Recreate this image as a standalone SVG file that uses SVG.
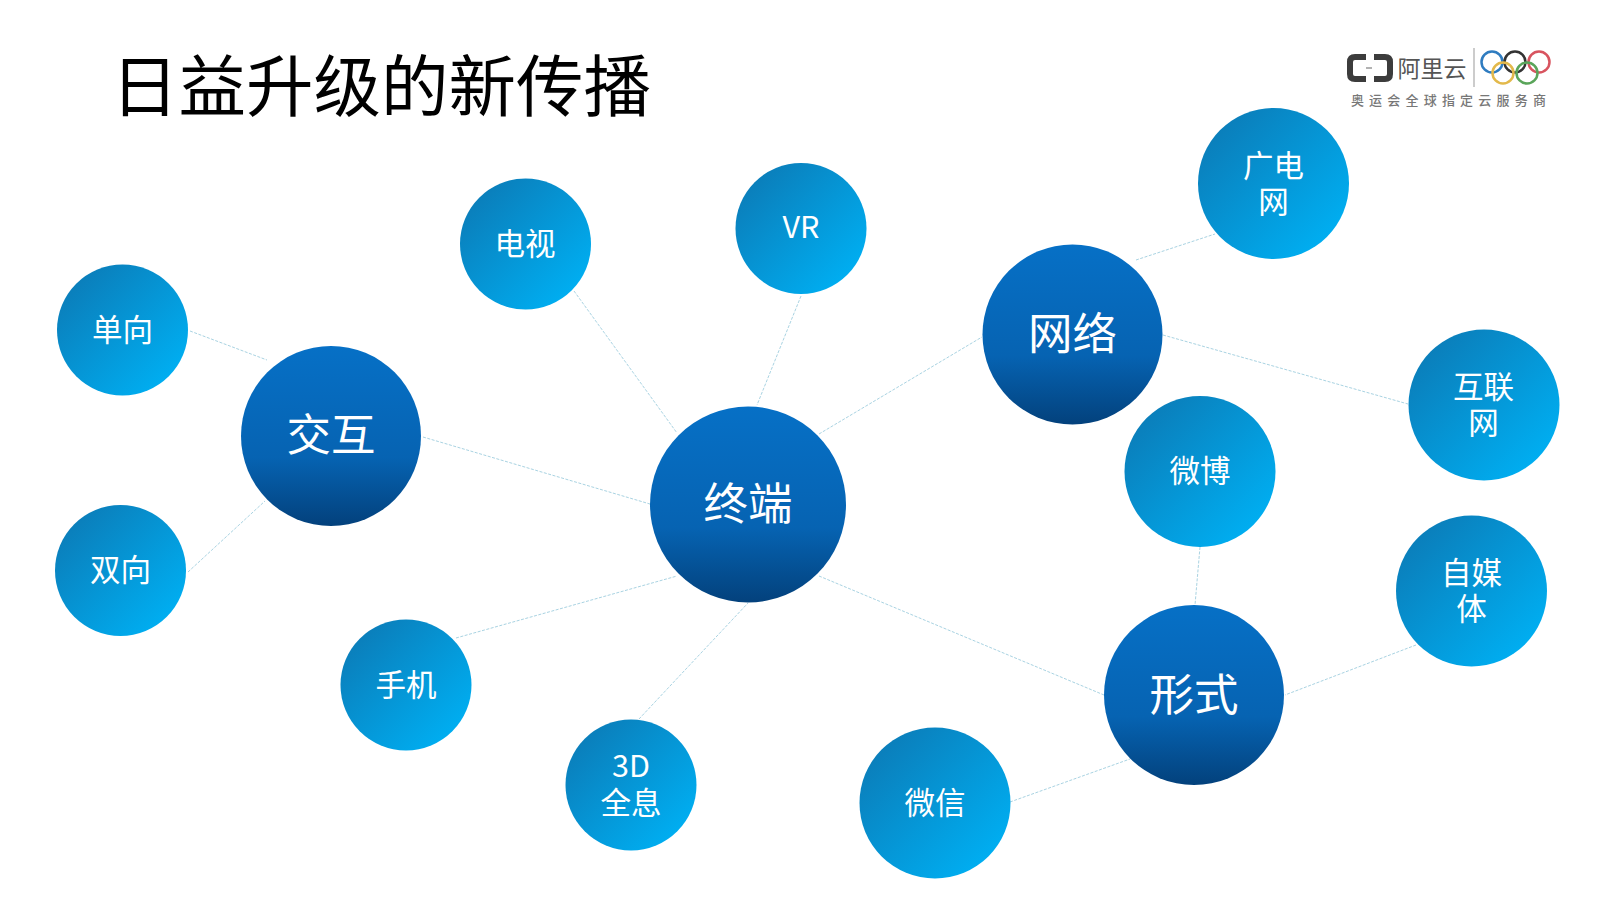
<svg xmlns="http://www.w3.org/2000/svg" width="1600" height="900" viewBox="0 0 1600 900">
<style>
text{font-family:"Noto Sans CJK SC","Microsoft YaHei",sans-serif;text-anchor:middle;fill:#fff}
.big{font-size:44.5px;font-weight:400}
.small{font-size:30.5px;font-weight:400}
#connectors line{stroke:#a9d3e2;stroke-width:1;stroke-dasharray:3 1.5}
.ring{fill:none;stroke-width:2.5}
</style>
<defs>
<linearGradient id="hub" x1="0" y1="0" x2="0" y2="1"><stop offset="0" stop-color="#0670c6"/><stop offset="0.62" stop-color="#0663b2"/><stop offset="1" stop-color="#03417c"/></linearGradient>
<linearGradient id="leaf" x1="0.1" y1="0.1" x2="0.85" y2="0.85"><stop offset="0" stop-color="#0b7cb8"/><stop offset="1" stop-color="#00adf0"/></linearGradient>
</defs>
<rect width="1600" height="900" fill="#fff"/>
<g id="connectors">
<line x1="190" y1="331" x2="267" y2="360"/>
<line x1="188" y1="572" x2="265" y2="501"/>
<line x1="423" y1="437" x2="650" y2="504"/>
<line x1="574" y1="291" x2="677" y2="433"/>
<line x1="801" y1="296" x2="757" y2="405"/>
<line x1="456" y1="638" x2="677" y2="576"/>
<line x1="639" y1="719" x2="748" y2="603"/>
<line x1="819" y1="434" x2="982" y2="337"/>
<line x1="1136" y1="260" x2="1215" y2="234"/>
<line x1="1163" y1="335" x2="1408" y2="404"/>
<line x1="819" y1="576" x2="1104" y2="695"/>
<line x1="1200" y1="547" x2="1195" y2="605"/>
<line x1="1416" y1="645" x2="1285" y2="695"/>
<line x1="1010" y1="802" x2="1130" y2="759"/>
</g>
<text id="title" x="381" y="111" style="font-size:67.5px;font-weight:400;fill:#000">日益升级的新传播</text>
<g id="logo">
<path d="M1366 57H1355Q1350 57 1350 62V74Q1350 79 1355 79H1366M1374 57H1385Q1390 57 1390 62V74Q1390 79 1385 79H1374" fill="none" stroke="#3c3c3c" stroke-width="6"/>
<path d="M1366 68h6" stroke="#999" stroke-width="1.5"/>
<text x="1432" y="77" style="font-size:23px;font-weight:400;fill:#555">阿里云</text>
<path d="M1474 48V87" stroke="#aaa" stroke-width="1.2"/>
<circle class="ring" cx="1492" cy="62" r="10.5" stroke="#2f7cc0"/>
<circle class="ring" cx="1515" cy="62" r="10.5" stroke="#333"/>
<circle class="ring" cx="1539" cy="62" r="10.5" stroke="#d8545f"/>
<circle class="ring" cx="1503" cy="73" r="10.5" stroke="#e3b94b"/>
<circle class="ring" cx="1527" cy="73" r="10.5" stroke="#5aa55a"/>
<text x="1451" y="105" style="font-size:13px;font-weight:500;letter-spacing:5.2px;fill:#777">奥运会全球指定云服务商</text>
</g>
<g id="n-jiaohu"><circle cx="331" cy="436" r="90" fill="url(#hub)"/><text class="big" x="331" y="451">交互</text></g>
<g id="n-zhongduan"><circle cx="748" cy="504.5" r="98" fill="url(#hub)"/><text class="big" x="748" y="520">终端</text></g>
<g id="n-wangluo"><circle cx="1072.5" cy="334.5" r="90" fill="url(#hub)"/><text class="big" x="1072.5" y="350">网络</text></g>
<g id="n-xingshi"><circle cx="1194" cy="695" r="90" fill="url(#hub)"/><text class="big" x="1194" y="711">形式</text></g>
<g id="n-danxiang"><circle cx="122.5" cy="330" r="65.5" fill="url(#leaf)"/><text class="small" x="122.5" y="341">单向</text></g>
<g id="n-shuangxiang"><circle cx="120.5" cy="570.5" r="65.5" fill="url(#leaf)"/><text class="small" x="120.5" y="581">双向</text></g>
<g id="n-dianshi"><circle cx="525.5" cy="244" r="65.5" fill="url(#leaf)"/><text class="small" x="525" y="254.5">电视</text></g>
<g id="n-vr"><circle cx="801" cy="228.5" r="65.5" fill="url(#leaf)"/><text class="small" x="801" y="238">VR</text></g>
<g id="n-shouji"><circle cx="406" cy="685" r="65.5" fill="url(#leaf)"/><text class="small" x="406" y="696">手机</text></g>
<g id="n-3d"><circle cx="631" cy="785" r="65.5" fill="url(#leaf)"/><text class="small"><tspan x="631" y="777">3D</tspan><tspan x="631" y="814">全息</tspan></text></g>
<g id="n-guangdian"><circle cx="1273.5" cy="183.5" r="75.5" fill="url(#leaf)"/><text class="small"><tspan x="1273.5" y="177">广电</tspan><tspan x="1273.5" y="213">网</tspan></text></g>
<g id="n-hulian"><circle cx="1484" cy="405" r="75.5" fill="url(#leaf)"/><text class="small"><tspan x="1483.5" y="398">互联</tspan><tspan x="1483.5" y="434">网</tspan></text></g>
<g id="n-weibo"><circle cx="1200" cy="471.5" r="75.5" fill="url(#leaf)"/><text class="small" x="1200" y="482">微博</text></g>
<g id="n-zimeiti"><circle cx="1471.5" cy="591" r="75.5" fill="url(#leaf)"/><text class="small"><tspan x="1471.5" y="584">自媒</tspan><tspan x="1471.5" y="620">体</tspan></text></g>
<g id="n-weixin"><circle cx="935" cy="803" r="75.5" fill="url(#leaf)"/><text class="small" x="935" y="814">微信</text></g>
</svg>
